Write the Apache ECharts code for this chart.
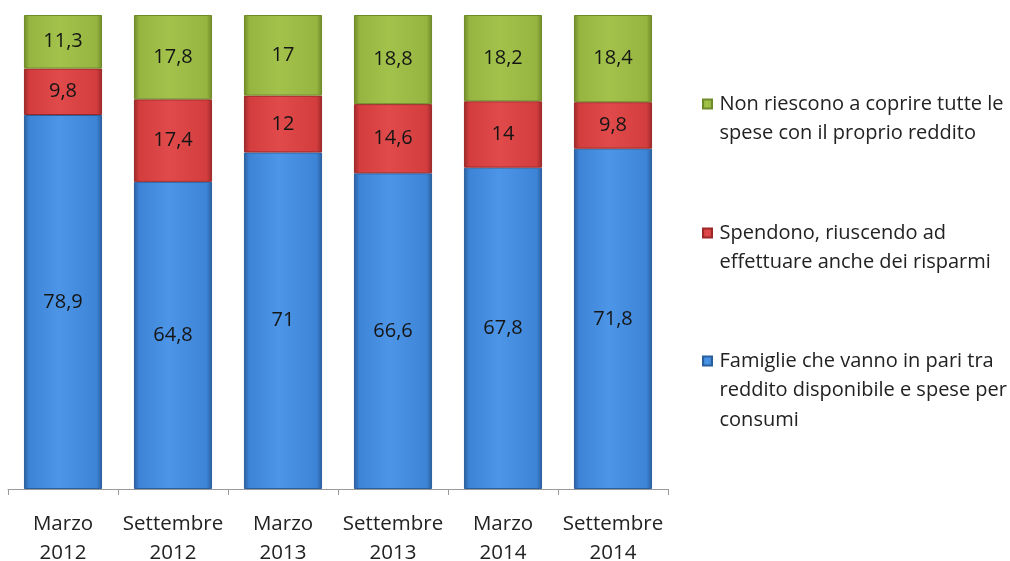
<!DOCTYPE html>
<html>
<head>
<meta charset="utf-8">
<script src="https://cdn.jsdelivr.net/npm/echarts@6/dist/echarts.min.js"></script>
<style>
  html, body { margin: 0; padding: 0; background: #fff; }
  #chart { width: 1010px; height: 561px; }
</style>
</head>
<body>
<div id="chart"></div>
<script>
  // categorie e valori (%)
  var categories = ['Marzo\n2012', 'Settembre\n2012', 'Marzo\n2013', 'Settembre\n2013', 'Marzo\n2014', 'Settembre\n2014']
  var famiglieInPari = [78.9, 64.8, 71, 66.6, 67.8, 71.8]
  var risparmiano = [9.8, 17.4, 12, 14.6, 14, 9.8]
  var nonCoprono = [11.3, 17.8, 17, 18.8, 18.2, 18.4]

  var nameBlue = 'Famiglie che vanno in pari tra\nreddito disponibile e spese per\nconsumi'
  var nameRed = 'Spendono, riuscendo ad\neffettuare anche dei risparmi'
  var nameGreen = 'Non riescono a coprire tutte le\nspese con il proprio reddito'

  var font = '"Open Sans", Lato, sans-serif'
  var lh = 29.5

  function barGrad (dark, main, light) {
    return new echarts.graphic.LinearGradient(0, 0, 1, 0, [
      { offset: 0, color: dark },
      { offset: 0.07, color: main },
      { offset: 0.45, color: light },
      { offset: 0.93, color: main },
      { offset: 1, color: dark }
    ])
  }

  function fmt (p) {
    return String(p.value).replace('.', ',')
  }

  function makeSeries (name, data, dark, main, light) {
    return {
      name: name,
      type: 'bar',
      stack: 'tot',
      barWidth: '71%',
      data: data,
      itemStyle: { color: barGrad(dark, main, light), borderColor: dark, borderWidth: 1 },
      label: {
        show: true,
        position: 'inside',
        formatter: fmt,
        color: '#151515',
        fontFamily: font,
        fontSize: 20
      }
    }
  }

  // il quadratino sta sulla prima riga: aggiungo righe vuote sopra
  function makeLegend (name, top) {
    var lines = name.split('\n').length
    return {
      left: 697,
      top: top,
      orient: 'vertical',
      data: [name],
      icon: 'path://M0,0L10,0L10,10L0,10Z',
      itemWidth: 14,
      itemHeight: 9,
      itemGap: 0,
      selectedMode: false,
      formatter: function (n) {
        return new Array(lines).join('\n') + n
      },
      textStyle: {
        fontFamily: font,
        fontSize: 20,
        color: '#222',
        lineHeight: lh
      }
    }
  }

  var chart = echarts.init(document.getElementById('chart'))
  var option = {
    animation: false,
    backgroundColor: '#fff',
    grid: { left: 8, right: 342, top: 15, bottom: 72, outerBoundsMode: 'none', containLabel: false },
    legend: [
      makeLegend(nameGreen, 99 - 1.5 * lh),
      makeLegend(nameRed, 228 - 1.5 * lh),
      makeLegend(nameBlue, 356 - 2.5 * lh)
    ],
    xAxis: {
      type: 'category',
      data: categories,
      axisLine: { lineStyle: { color: '#9a9a9a', width: 1 } },
      axisTick: { show: true, interval: 0, length: 6, lineStyle: { color: '#9a9a9a' } },
      axisLabel: {
        interval: 0,
        fontFamily: font,
        fontSize: 20.5,
        color: '#222',
        lineHeight: 29,
        margin: 21
      }
    },
    yAxis: {
      type: 'value',
      min: 0,
      max: 100,
      show: false,
      splitLine: { show: false }
    },
    series: [
      makeSeries(nameBlue, famiglieInPari, '#2a5f9e', '#3d84d6', '#4d95e6'),
      makeSeries(nameRed, risparmiano, '#9c2828', '#d43d3d', '#e04a4a'),
      makeSeries(nameGreen, nonCoprono, '#6f8a28', '#95b540', '#a2c24c')
    ]
  }
  chart.setOption(option)
</script>
</body>
</html>
